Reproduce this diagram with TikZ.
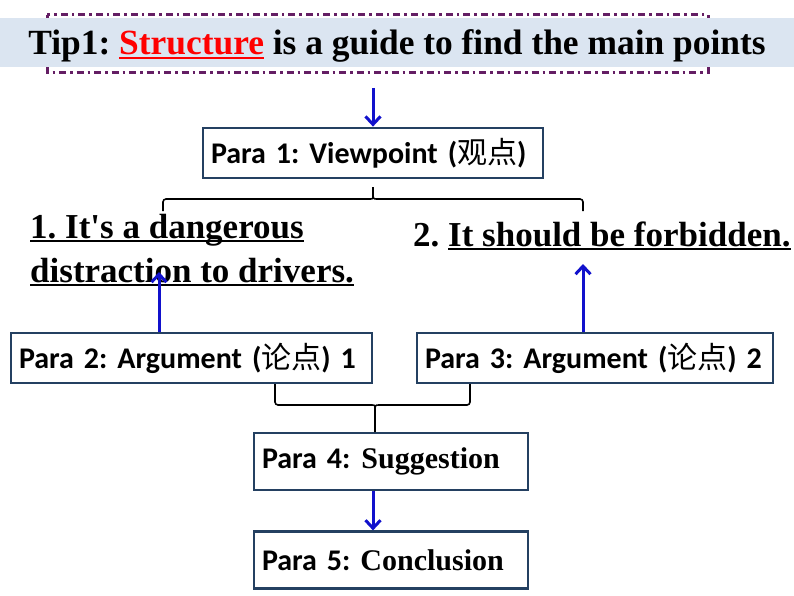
\documentclass[tikz,border=0pt]{standalone}
\usepackage{fontspec}
\setmainfont{Liberation Serif}
\setsansfont{Carlito}
\newfontfamily\cjk{Noto Sans CJK SC}
\usepackage{tikz}
\usetikzlibrary{arrows.meta, positioning, calc}
\definecolor{boxline}{RGB}{36,64,97}
\definecolor{flowblue}{RGB}{17,17,204}
\definecolor{bandfill}{RGB}{219,229,241}
\definecolor{tipline}{RGB}{100,30,100}
\newlength\ulwd
\newcommand\ulline[1]{\settowidth\ulwd{#1}\rlap{\rule[-4pt]{\ulwd}{1.8pt}}#1}
\frenchspacing
\tikzset{
         parabox/.style={draw=boxline, line width=2.8pt, fill=white, inner xsep=8pt, inner ysep=0pt, minimum height=50pt, font=\sffamily\bfseries\fontsize{30}{36}\selectfont},
         pointtxt/.style={inner sep=0pt, align=left, font=\bfseries\fontsize{35}{44}\selectfont},
         flow/.style={draw=flowblue, line width=3pt, -{Straight Barb[length=8pt,width=15pt]}},
         bracket/.style={draw=black, line width=1.6pt}
      }

\begin{document}
\begin{tikzpicture}[x=1pt, y=-1pt]
  \useasboundingbox (0,0) rectangle (794,596);
  % title band
  \draw[tipline, line width=3pt, dash pattern=on 7pt off 4pt on 2.5pt off 4pt] (47,15) rectangle (708,73);
  \fill[bandfill] (0,18) rectangle (794,67);
  \node[anchor=base, inner sep=0pt, font=\bfseries\fontsize{35.4}{42}\selectfont] (tip) at (397,55)
       {Tip1: \textcolor{red}{\ulline{Structure}} is a guide to find the main points};

  % paragraphs
  \node[parabox, text width=324pt] (p1) at (373,153) {Para 1: Viewpoint ({\cjk\mdseries 观点})};
  \node[parabox, text width=345pt] (p2) at (191.5,358) {Para 2: Argument ({\cjk\mdseries 论点}) 1};
  \node[parabox, text width=340pt] (p3) at (595,358) {Para 3: Argument ({\cjk\mdseries 论点}) 2};
  \node[parabox, text width=258pt, minimum height=57pt] (p4) at (391,461.5) {Para 4:\hspace{11pt}{\rmfamily Suggestion}};
  \node[parabox, text width=258pt, minimum height=57pt, below=39pt of p4] (p5) {Para 5:\hspace{10pt}{\rmfamily Conclusion}};

  % points
  \node[pointtxt, anchor=base west] (pt1) at (30,282)
       {\ulline{1. It\textquotesingle s a dangerous}\\\ulline{distraction to drivers.}};
  \node[pointtxt, anchor=base west] (pt2) at (413,246) {2. \ulline{It should be forbidden.}};

  % arrows
  \coordinate (tipfoot) at (373,88);
  \coordinate (pt1foot) at (159,272);
  \coordinate (pt2foot) at (583,264);
  \draw[flow] (tipfoot) -- (p1.north -| tipfoot);
  \draw[flow] (p2.north -| pt1foot) -- (pt1foot);
  \draw[flow] (p3.north -| pt2foot) -- (pt2foot);
  \draw[flow] (p4.south -| tipfoot) -- (p5.north -| tipfoot);

  % braces
  \draw[bracket, rounded corners=3pt] (163,211) |- (366,199) .. controls (373,199) .. (373,192) -- (373,187);
  \draw[bracket, rounded corners=3pt] (583,211) |- (380,199) .. controls (373,199) .. (373,192);
  \draw[bracket, rounded corners=3pt] (275,384) |- (368,405) .. controls (375,405) .. (375,412) -- (375,432);
  \draw[bracket, rounded corners=3pt] (470,384) |- (382,405) .. controls (375,405) .. (375,412);
\end{tikzpicture}
\end{document}
